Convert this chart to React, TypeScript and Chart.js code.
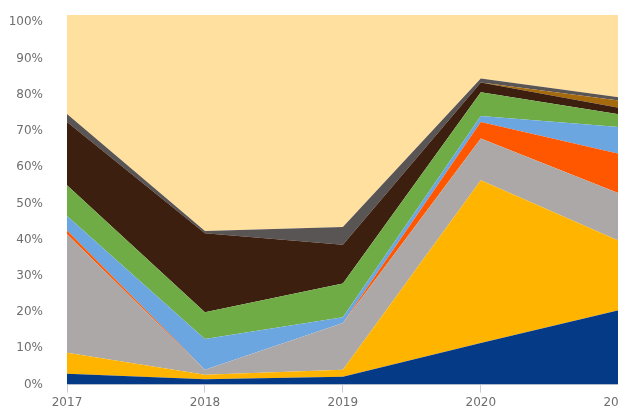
import React, { useEffect, useRef } from "react";
import { Chart, registerables } from "chart.js";

Chart.register(...registerables);

const years = ["2017", "2018", "2019", "2020", "2021"];

const navy = [3.0, 1.5, 2.2, 11.5, 20.5];
const amber = [5.8, 1.2, 1.9, 44.9, 19.2];
const silver = [32.7, 1.4, 12.9, 11.5, 13.1];
const orange = [1.0, 0, 0, 4.6, 10.9];
const skyBlue = [4.0, 8.5, 1.6, 1.6, 7.4];
const green = [8.5, 7.4, 9.3, 6.6, 3.5];
const darkBrown = [17.5, 21.8, 10.7, 2.7, 1.8];
const ochre = [0, 0, 0, 0, 2.0];
const darkGrey = [2.2, 0.6, 4.9, 1.1, 0.9];
const paleYellow = [27.3, 59.6, 58.5, 17.5, 22.7];

const yTicks = [0, 10, 20, 30, 40, 50, 60, 70, 80, 90, 100];

const series = [
  { data: navy, color: "#053A86" },
  { data: amber, color: "#FFB400" },
  { data: silver, color: "#ADA8A8" },
  { data: orange, color: "#FF5600" },
  { data: skyBlue, color: "#6BA6E0" },
  { data: green, color: "#6FAC46" },
  { data: darkBrown, color: "#3C1F0F" },
  { data: ochre, color: "#A66A0E" },
  { data: darkGrey, color: "#5A5555" },
  { data: paleYellow, color: "#FFE09E" },
];

export default function App() {
  const ref = useRef<HTMLCanvasElement | null>(null);

  useEffect(() => {
    if (!ref.current) return;
    const chart = new Chart(ref.current, {
      type: "line",
      data: {
        labels: years,
        datasets: series.map((s, i) => ({
          data: s.data,
          backgroundColor: s.color,
          borderColor: s.color,
          borderWidth: 0,
          pointRadius: 0,
          tension: 0,
          fill: i === 0 ? "origin" : "-1",
        })),
      },
      options: {
        responsive: true,
        maintainAspectRatio: false,
        animation: false,
        layout: { padding: 0 },
        plugins: { legend: { display: false }, tooltip: { enabled: false } },
        scales: {
          x: {
            grid: {
              display: true,
              drawOnChartArea: false,
              color: "#C9CDD6",
              tickLength: 8,
            },
            border: { display: true, color: "#C9CDD6" },
            ticks: {
              color: "#6E6E6E",
              font: { family: "DejaVu Sans", size: 12 },
              padding: 3,
              maxRotation: 0,
            },
          },
          y: {
            stacked: true,
            min: 0,
            max: 102,
            bounds: "data",
            grid: { display: false, drawTicks: false },
            border: { display: false },
            afterFit: (scale: any) => {
              scale.width = 59;
              scale.paddingTop = 7;
              scale.paddingBottom = 0;
            },
            afterBuildTicks: (scale: any) => {
              scale.ticks = yTicks.map((v) => ({ value: v }));
            },
            ticks: {
              color: "#6E6E6E",
              font: { family: "DejaVu Sans", size: 12 },
              padding: 24,
              callback: (v: any) => v + "%",
            },
          },
        },
      },
    });
    return () => chart.destroy();
  }, []);

  return (
    <div
      style={{
        position: "fixed",
        left: 8,
        top: 8,
        width: 610,
        height: 402,
        overflow: "hidden",
      }}
    >
      <div style={{ position: "relative", width: 629, height: 405 }}>
        <canvas ref={ref} />
      </div>
    </div>
  );
}
